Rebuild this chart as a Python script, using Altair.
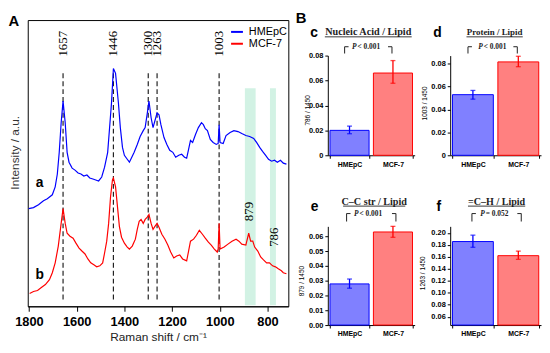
import altair as alt
import pandas as pd

FONT = "Liberation Sans"
SERIF = "Liberation Serif"

cells = ["HMEpC", "MCF-7"]
line_colors = ["#0000ff", "#ff0000"]
bar_fills = ["#8080ff", "#ff8080"]

# ---------------- Panel A: Raman spectra (offset traces, a.u.) ----------------
hmepc_shift = [1801, 1781, 1760, 1739, 1723, 1702, 1690, 1681, 1673, 1665,
               1657, 1648, 1640, 1632, 1619, 1607, 1594, 1582, 1570, 1557,
               1545, 1532, 1520, 1508, 1495, 1483, 1470, 1462, 1454, 1446,
               1437, 1425, 1417, 1408, 1400, 1388, 1379, 1371, 1359, 1346,
               1334, 1321, 1313, 1305, 1297, 1288, 1280, 1272, 1263, 1255,
               1247, 1234, 1222, 1210, 1197, 1185, 1172, 1160, 1148, 1139,
               1131, 1123, 1114, 1102, 1090, 1077, 1069, 1061, 1052, 1040,
               1028, 1015, 1007, 1003, 999, 986, 974, 957, 941, 924,
               908, 891, 875, 858, 846, 833, 821, 808, 796, 783,
               771, 759, 746, 734, 721]
hmepc_intensity = [99, 100, 103, 107, 109, 113, 121, 134, 156, 186,
                   208, 186, 156, 146, 140, 138, 135, 134, 132, 133,
                   130, 129, 128, 127, 131, 141, 156, 181, 206, 241,
                   236, 206, 181, 161, 153, 149, 146, 150, 156, 164,
                   172, 178, 181, 194, 208, 191, 181, 188, 196, 194,
                   184, 171, 164, 158, 156, 151, 153, 154, 151, 150,
                   159, 168, 166, 174, 181, 186, 184, 180, 178, 169,
                   166, 164, 165, 184, 166, 165, 173, 176, 178, 177,
                   175, 173, 172, 170, 166, 161, 157, 153, 149, 147,
                   148, 146, 148, 145, 144]
mcf7_shift = [1797, 1781, 1764, 1748, 1731, 1714, 1702, 1690, 1677, 1665,
              1657, 1648, 1640, 1628, 1615, 1603, 1590, 1578, 1565, 1553,
              1541, 1528, 1516, 1503, 1491, 1483, 1474, 1466, 1458, 1450,
              1446, 1437, 1429, 1421, 1412, 1400, 1388, 1379, 1367, 1354,
              1346, 1338, 1330, 1321, 1313, 1305, 1297, 1288, 1280, 1272,
              1263, 1255, 1243, 1230, 1218, 1206, 1193, 1181, 1168, 1156,
              1139, 1131, 1123, 1110, 1098, 1086, 1073, 1061, 1048, 1036,
              1023, 1011, 1007, 1003, 999, 982, 966, 949, 932, 920,
              908, 891, 879, 871, 862, 854, 841, 829, 817, 804,
              792, 779, 767, 755, 742, 734, 721]
mcf7_intensity = [13, 15, 16, 19, 22, 27, 34, 44, 61, 84,
                  99, 84, 74, 71, 69, 64, 59, 56, 53, 48,
                  44, 42, 40, 41, 44, 54, 66, 84, 111, 128,
                  130, 121, 101, 81, 70, 64, 60, 58, 61, 68,
                  78, 86, 88, 84, 88, 90, 93, 84, 78, 81,
                  84, 80, 73, 68, 62, 55, 49, 51, 52, 48,
                  46, 56, 66, 68, 72, 77, 73, 69, 65, 62,
                  58, 55, 58, 84, 58, 60, 63, 66, 68, 66,
                  63, 62, 74, 66, 66, 60, 56, 50, 47, 44,
                  44, 41, 40, 38, 36, 34, 33]

peak_shift = [1657, 1446, 1300, 1263, 1003]
peak_text = ["1657", "1446", "1300", "1263", "1003"]
band_from = [895, 790]
band_to = [850, 765]
band_text = ["879", "786"]
band_text_shift = [879, 772]
band_text_intensity = [96, 70]
trace_letter = ["a", "b"]
trace_letter_shift = [1755, 1755]
trace_letter_intensity = [121, 28]
shift_ticks = [1800, 1700, 1600, 1500, 1400, 1300, 1200, 1100, 1000, 900, 800]

# ---------------- Panel B: band-intensity ratios ----------------
nucleic_ratio = [0.0200, 0.0660]
nucleic_lo = [0.0173, 0.0578]
nucleic_hi = [0.0234, 0.0760]
protein_ratio = [0.0529, 0.0815]
protein_lo = [0.0490, 0.0773]
protein_hi = [0.0566, 0.0864]
cc_ratio = [0.0278, 0.0629]
cc_lo = [0.0249, 0.0593]
cc_hi = [0.0311, 0.0667]
ch_ratio = [0.1856, 0.1620]
ch_lo = [0.1760, 0.1558]
ch_hi = [0.1963, 0.1696]


def one_text(t, x, y, **kw):
    return alt.Chart(pd.DataFrame({"t": [t]})).mark_text(**kw).encode(
        text="t:N", x=alt.value(x), y=alt.value(y))


def seg(x1, x2, y1, y2, color="#333333", width=1.1):
    return alt.Chart(pd.DataFrame({"k": [0]})).mark_rule(color=color, strokeWidth=width).encode(
        x=alt.value(x1), x2=alt.value(x2), y=alt.value(y1), y2=alt.value(y2))


# ---------- Panel A ----------
spec = pd.concat([
    pd.DataFrame({"shift": hmepc_shift, "intensity": hmepc_intensity, "cell": "HMEpC"}),
    pd.DataFrame({"shift": mcf7_shift, "intensity": mcf7_intensity, "cell": "MCF-7"}),
], ignore_index=True)
peaks = pd.DataFrame({"shift": peak_shift, "label": peak_text})
bands = pd.DataFrame({"from": band_from, "to": band_to})
band_lab = pd.DataFrame({"shift": band_text_shift, "intensity": band_text_intensity, "label": band_text})
letters = pd.DataFrame({"shift": trace_letter_shift, "intensity": trace_letter_intensity, "label": trace_letter})

xsA = alt.Scale(domain=[713, 1805], reverse=True, nice=False, zero=False)
ysA = alt.Scale(domain=[0, 290], nice=False, zero=False)
x_axis_A = alt.Axis(values=shift_ticks, format="d",
                    labelExpr="datum.value % 200 === 0 ? datum.label : ''",
                    labelFont=FONT, labelFontSize=13, labelFontWeight="bold", labelColor="black",
                    labelOverlap=False, labelPadding=4,
                    tickSize=5, tickColor="black", domainColor="black",
                    title="Raman shift / cm\u207b\u00b9", titleFont=FONT, titleFontSize=12,
                    titleFontWeight="normal", titleColor="#222222", titlePadding=4)
y_axis_A = alt.Axis(labels=False, ticks=False, domain=False, title="Intensity / a.u.",
                    titleFont=FONT, titleFontSize=12, titleFontWeight="normal", titleColor="#333333",
                    titleX=-13, titleY=134, titleBaseline="middle")

band_layer = alt.Chart(bands).mark_rect(color="#d2f2e4").encode(
    x=alt.X("from:Q", scale=xsA, axis=x_axis_A), x2="to:Q",
    y=alt.datum(1), y2=alt.datum(221))
dash_layer = alt.Chart(peaks).mark_rule(color="#222222", strokeWidth=1.2, strokeDash=[5, 3]).encode(
    x=alt.X("shift:Q", scale=xsA, axis=x_axis_A), y=alt.datum(7), y2=alt.datum(236))
line_layer = alt.Chart(spec).mark_line(strokeWidth=1.2).encode(
    x=alt.X("shift:Q", scale=xsA, axis=x_axis_A),
    y=alt.Y("intensity:Q", scale=ysA, axis=y_axis_A),
    color=alt.Color("cell:N", scale=alt.Scale(domain=cells, range=line_colors),
                    legend=alt.Legend(title=None, orient="none", legendX=205, legendY=5,
                                      symbolType="stroke", symbolSize=144, symbolStrokeWidth=2,
                                      labelFont=FONT, labelFontSize=11, labelColor="black",
                                      rowPadding=0, padding=0, labelOffset=5)))
peak_text_layer = alt.Chart(peaks).mark_text(angle=270, font=SERIF, fontSize=13, color="black",
                                             align="center", baseline="middle").encode(
    x="shift:Q", y=alt.datum(266), text="label:N")
band_text_layer = alt.Chart(band_lab).mark_text(angle=270, font=SERIF, fontSize=13, color="black",
                                                align="center", baseline="middle").encode(
    x="shift:Q", y="intensity:Q", text="label:N")
letter_layer = alt.Chart(letters).mark_text(font=FONT, fontSize=14, fontWeight="bold", color="black",
                                            align="center", baseline="alphabetic").encode(
    x="shift:Q", y="intensity:Q", text="label:N")
A_letter = one_text("A", -14, 6, font=FONT, fontSize=15, fontWeight="bold", color="black",
                    align="center", baseline="alphabetic")

panelA = alt.layer(band_layer, dash_layer, line_layer, peak_text_layer, band_text_layer,
                   letter_layer, A_letter).properties(
    width=264, height=290, view=alt.ViewBackground(stroke="black", strokeWidth=1))


# ---------- Panel B ----------
def bar_panel(vals, lo, hi, domain, ticks, label_expr, width, height, y_range, ytitle,
              title_x, title_y, annotations):
    df = pd.DataFrame({"cell": cells, "ratio": vals, "lo": lo, "hi": hi})
    xax = alt.Axis(title=None, labelAngle=0, labelFont=FONT, labelFontWeight="bold", labelFontSize=7,
                   labelColor="black", tickSize=3, tickBand="extent", tickColor="black",
                   domainColor="black", labelPadding=2)
    yax = alt.Axis(title=ytitle, values=ticks, labelExpr=label_expr, labelFont=FONT,
                   labelFontWeight="bold", labelFontSize=7.5, labelColor="black", tickSize=3,
                   tickColor="black", domainColor="black", labelPadding=2,
                   titleFont=FONT, titleFontSize=6.5, titleFontWeight="normal", titleColor="black",
                   titleX=title_x, titleY=title_y, titleBaseline="middle")
    xs = alt.Scale(domain=cells, paddingInner=0.1, paddingOuter=0.05)
    ys = alt.Scale(domain=domain, range=y_range, nice=False, zero=False)
    X = alt.X("cell:N", scale=xs, axis=xax, sort=cells)
    stroke = alt.Stroke("cell:N", scale=alt.Scale(domain=cells, range=line_colors), legend=None)
    base = alt.Chart(df)
    bars = base.mark_bar(strokeWidth=1).encode(
        x=X, y=alt.Y("ratio:Q", scale=ys, axis=yax), y2=alt.datum(domain[0]),
        fill=alt.Fill("cell:N", scale=alt.Scale(domain=cells, range=bar_fills), legend=None),
        stroke=stroke)
    err = base.mark_rule(strokeWidth=1.3).encode(
        x=X, y=alt.Y("lo:Q", scale=ys, axis=yax), y2="hi:Q", stroke=stroke)
    cap_lo = base.mark_tick(size=5, thickness=1.3).encode(
        x=X, y=alt.Y("lo:Q", scale=ys, axis=yax),
        color=alt.Color("cell:N", scale=alt.Scale(domain=cells, range=line_colors), legend=None))
    cap_hi = base.mark_tick(size=5, thickness=1.3).encode(
        x=X, y=alt.Y("hi:Q", scale=ys, axis=yax),
        color=alt.Color("cell:N", scale=alt.Scale(domain=cells, range=line_colors), legend=None))
    return alt.layer(bars, err, cap_lo, cap_hi, *annotations).properties(width=width, height=height)


def header(letter, lx, lb, title, tsize, tx, tb, uw, ub, bl, br, btop, bbot, ptxt, px):
    return [
        one_text(letter, lx, lb, font=FONT, fontSize=14, fontWeight="bold", color="black",
                 align="center", baseline="alphabetic"),
        one_text(title, tx, tb, font=SERIF, fontSize=tsize, fontWeight="bold", color="#222222",
                 align="center", baseline="alphabetic"),
        seg(tx - uw / 2, tx + uw / 2, ub, ub, color="#222222", width=0.9),
        seg(bl, bl, btop, bbot), seg(bl, bl + 4, btop, btop),
        seg(br, br, btop, bbot), seg(br - 4, br, btop, btop),
        one_text("P", px - 11, btop + 0.5, font=SERIF, fontSize=7.5, fontWeight="bold",
                 fontStyle="italic", color="#222222", align="right", baseline="middle"),
        one_text(ptxt, px - 10, btop + 0.5, font=SERIF, fontSize=7.5, fontWeight="bold",
                 color="#222222", align="left", baseline="middle"),
    ]


zero_expr = "datum.value === 0 ? '0' : format(datum.value, '.2f')"
two_dec = "format(datum.value, '.2f')"

panel_c = bar_panel(nucleic_ratio, nucleic_lo, nucleic_hi, [0, 0.08],
                    [0, 0.02, 0.04, 0.06, 0.08], zero_expr, 88, 137, [137, 36], "786 / 1450",
                    -21, 91,
                    header("c", -14, 17, "Nucleic Acid / Lipid", 10.3, 41, 15, 88, 17,
                           17, 65, 27, 34, "< 0.001", 40)
                    + [one_text("B", -27, 3, font=FONT, fontSize=15, fontWeight="bold",
                                color="black", align="center", baseline="alphabetic")])
panel_d = bar_panel(protein_ratio, protein_lo, protein_hi, [0, 0.087],
                    [0, 0.02, 0.04, 0.06, 0.08], zero_expr, 92, 137, [137, 36], "1003 / 1450",
                    -26, 84,
                    header("d", -13, 17, "Protein / Lipid", 9, 45, 15, 57, 17,
                           18, 68, 27, 34, "< 0.001", 44))
panel_e = bar_panel(cc_ratio, cc_lo, cc_hi, [0, 0.0667],
                    [0, 0.01, 0.02, 0.03, 0.04, 0.05, 0.06], two_dec, 88, 100, [100, 0],
                    "879 / 1450", -27, 55,
                    header("e", -13.5, -16, "C\u2013C str / Lipid", 10.3, 47, -22, 63, -20.5,
                           19, 69, -13, -5, "< 0.001", 42))
panel_f = bar_panel(ch_ratio, ch_lo, ch_hi, [0.046, 0.211],
                    [0.06, 0.08, 0.10, 0.12, 0.14, 0.16, 0.18, 0.20], two_dec, 92, 100, [100, 0],
                    "1263 / 1450", -28, 47,
                    header("f", -11.5, -16, "=C\u2013H / Lipid", 10.2, 47, -22, 58, -20.5,
                           22, 72, -13, -5, "= 0.052", 46))

panelB = alt.concat(panel_c, panel_d, panel_e, panel_f, columns=2, bounds="flush", align="each",
                    spacing={"row": 72, "column": 36})

chart = alt.hconcat(panelA, panelB, spacing=40, bounds="flush").properties(
    padding={"left": 0, "top": 0, "right": 0, "bottom": 0}
).resolve_scale(color="independent").resolve_legend(color="independent").configure_view(
    stroke="transparent").configure_axis(grid=False)

chart.save("out.html", embed_options={"renderer": "svg", "actions": False})
